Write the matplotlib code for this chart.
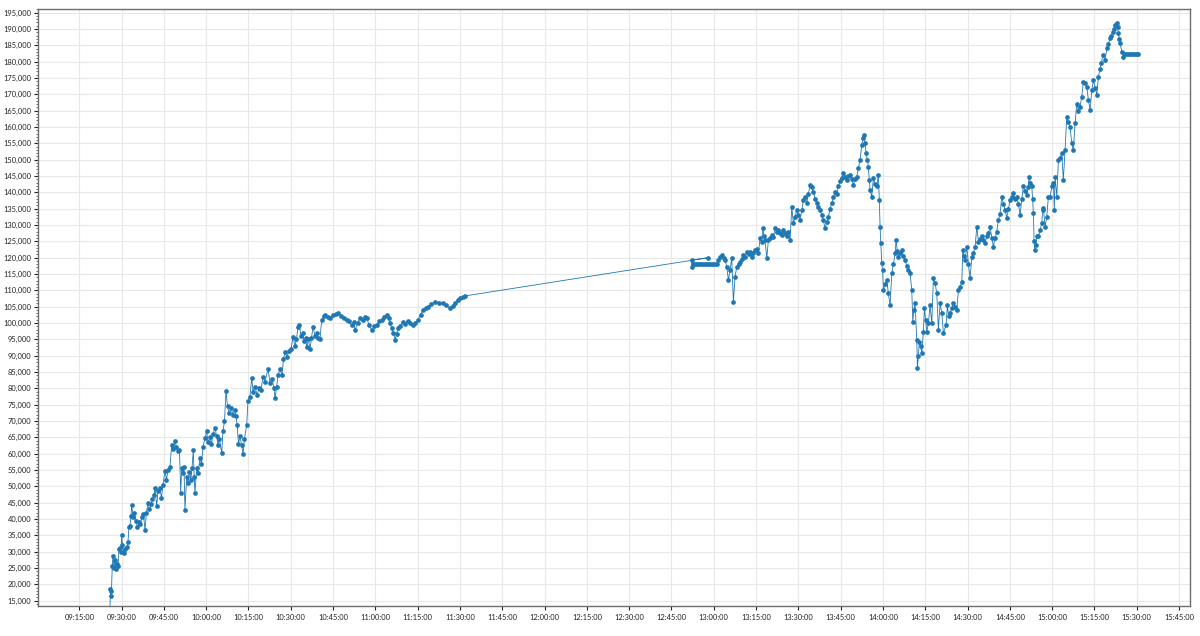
import matplotlib
matplotlib.use('Agg')
from matplotlib import pyplot as plt
import matplotlib.dates as mdates
from matplotlib.ticker import MultipleLocator, FuncFormatter
import pandas as pd

# morning session
am_time = ['09:25:53','09:26:04','09:26:10','09:26:25','09:26:42','09:26:57','09:27:18','09:27:40','09:28:01','09:28:22',
           '09:28:44','09:29:05','09:29:26','09:29:47','09:30:02','09:30:19','09:30:51','09:31:23','09:31:55','09:32:16',
           '09:32:38','09:32:59','09:33:20','09:33:35','09:34:03','09:34:35','09:35:07','09:35:38','09:36:10','09:36:42',
           '09:37:14','09:37:46','09:38:18','09:38:50','09:39:22','09:39:54','09:40:26','09:40:58','09:41:30','09:41:51',
           '09:42:27','09:42:55','09:43:37','09:44:09','09:44:41','09:45:24','09:45:56','09:46:28','09:47:10','09:47:46',
           '09:48:14','09:48:56','09:49:28','09:50:00','09:50:32','09:50:58','09:51:19','09:51:47','09:52:08','09:52:29',
           '09:53:05','09:53:33','09:54:05','09:54:37','09:54:58','09:55:26','09:55:45','09:56:02','09:56:38','09:57:06',
           '09:57:48','09:58:20','09:58:52','09:59:35','10:00:11','10:00:39','10:01:21','10:01:53','10:02:25','10:03:08',
           '10:03:40','10:04:12','10:04:43','10:05:30','10:05:58','10:06:30','10:07:02','10:07:34','10:08:06','10:08:48',
           '10:09:31','10:10:13','10:10:35','10:11:00','10:11:28','10:12:00','10:12:32','10:13:04','10:13:35','10:14:22',
           '10:14:50','10:15:32','10:16:09','10:16:36','10:17:19','10:18:01','10:18:44','10:19:27','10:20:09','10:20:52',
           '10:21:56','10:22:38','10:23:21','10:24:03','10:24:25','10:25:01','10:25:28','10:26:11','10:26:53','10:27:25',
           '10:27:57','10:28:40','10:29:22','10:30:05','10:30:48','10:31:30','10:32:02','10:32:34','10:33:02','10:33:38',
           '10:34:10','10:34:42','10:35:14','10:35:39','10:36:17','10:36:49','10:37:21','10:37:53','10:38:36','10:39:18',
           '10:39:50','10:40:22','10:40:58','10:41:37','10:42:08','10:43:02','10:43:55','10:44:59','10:46:03','10:46:45',
           '10:47:49','10:48:53','10:49:50','10:50:39','10:51:37','10:52:15','10:52:47','10:53:40','10:54:33','10:55:27',
           '10:56:09','10:56:56','10:57:45','10:58:42','10:59:31','11:00:29','11:01:18','11:02:15','11:03:04','11:04:01',
           '11:04:40','11:05:12','11:05:44','11:06:22','11:06:58','11:07:30','11:08:02','11:08:44','11:09:48','11:10:41',
           '11:11:35','11:12:17','11:13:21','11:14:14','11:15:08','11:16:01','11:16:54','11:17:47','11:18:40','11:19:44',
           '11:21:09','11:22:34','11:23:59','11:25:03','11:26:28','11:27:22','11:28:15','11:29:08','11:30:01','11:30:55',
           '11:31:48']
am_value = [12500,18500,16500,18000,25500,28800,25000,27500,24800,26200,
            25500,30800,31200,30000,35100,32000,29500,30800,31500,33000,
            37500,38000,41000,44300,40700,42000,39500,37500,39000,38500,
            40500,41500,36600,42000,45000,43000,44500,46000,47500,49500,
            44000,48500,49500,46500,50500,54700,52000,55000,56000,62700,
            61500,63900,62000,60800,61000,48000,55700,54000,56000,42800,
            53000,51000,54500,52000,55500,61000,53000,48000,55700,54000,
            58600,57000,62000,64800,66800,63500,65000,63000,66000,68000,
            65500,62700,64500,60200,67000,70000,79300,74500,72500,74000,
            72000,73500,71500,68800,63000,65500,62700,60000,64500,68800,
            76200,77500,83300,79000,80500,78000,80000,79500,83500,82000,
            86000,81700,83000,80000,76900,80500,84000,86000,84000,89000,
            91000,89700,91500,92000,95700,93000,95000,98900,99400,96000,
            97000,94500,95500,92700,95000,92000,95500,98800,96000,97000,
            95500,95000,101000,102000,102500,101800,101500,102400,102800,103000,
            102300,101500,101000,100500,99400,100200,97800,100000,101500,100800,
            101800,101500,99500,97800,99000,99400,100600,101000,101800,102500,
            101500,100000,98500,97000,94900,96500,98500,99000,100300,99800,
            100500,100000,99400,100000,101000,102500,104000,104500,105000,105800,
            106500,106000,106000,105400,104700,105300,106000,107000,107600,108000,
            108300]

# afternoon session (first tick arrives out of order)
pm_time = ['12:58:05','12:52:12','12:52:18','12:52:40','12:53:22','12:54:05','12:54:48','12:55:30','12:56:13','12:56:56',
           '12:57:38','12:58:21','12:59:04','12:59:46','13:00:29','13:01:12','13:01:31','13:02:14','13:02:50','13:03:29',
           '13:04:01','13:04:37','13:05:11','13:05:47','13:06:23','13:06:57','13:07:33','13:08:10','13:08:48','13:09:20',
           '13:09:56','13:10:30','13:11:06','13:11:42','13:12:21','13:12:53','13:13:29','13:14:03','13:14:39','13:15:15',
           '13:15:49','13:16:25','13:16:57','13:17:23','13:17:50','13:18:12','13:18:48','13:19:22','13:19:58','13:20:34',
           '13:21:08','13:21:45','13:22:21','13:22:55','13:23:31','13:24:07','13:24:41','13:25:17','13:25:53','13:26:27',
           '13:27:04','13:27:40','13:28:14','13:28:50','13:29:26','13:30:00','13:30:36','13:31:13','13:31:47','13:32:23',
           '13:32:59','13:33:33','13:34:09','13:34:45','13:35:20','13:35:56','13:36:32','13:37:06','13:37:42','13:38:18',
           '13:38:52','13:39:28','13:40:05','13:40:39','13:41:15','13:41:51','13:42:25','13:43:01','13:43:37','13:44:12',
           '13:44:48','13:45:24','13:45:58','13:46:34','13:47:10','13:47:44','13:48:20','13:48:57','13:49:31','13:50:07',
           '13:50:43','13:51:17','13:51:53','13:52:29','13:52:57','13:53:18','13:53:40','13:54:01','13:54:27','13:54:50',
           '13:55:09','13:55:26','13:56:02','13:56:36','13:57:12','13:57:49','13:58:23','13:58:42','13:58:59','13:59:14',
           '13:59:35','13:59:52','14:00:09','14:00:45','14:01:21','14:01:55','14:02:32','14:03:08','14:03:42','14:04:18',
           '14:04:39','14:05:05','14:05:28','14:06:04','14:06:41','14:07:15','14:07:51','14:08:27','14:09:01','14:09:37',
           '14:10:13','14:10:35','14:10:58','14:11:24','14:12:00','14:12:13','14:12:32','14:12:55','14:13:21','14:13:46',
           '14:14:20','14:14:42','14:15:07','14:15:33','14:16:07','14:16:43','14:17:19','14:17:53','14:18:29','14:19:05',
           '14:19:40','14:20:16','14:20:52','14:21:26','14:22:23','14:22:51','14:23:17','14:23:49','14:24:25','14:24:59',
           '14:25:35','14:26:11','14:26:46','14:27:22','14:27:58','14:28:19','14:28:42','14:29:08','14:29:44','14:30:18',
           '14:30:54','14:31:30','14:32:04','14:32:41','14:33:17','14:33:51','14:34:27','14:35:03','14:35:37','14:36:13',
           '14:36:49','14:37:23','14:38:00','14:38:36','14:39:10','14:39:46','14:40:22','14:40:56','14:41:32','14:42:09',
           '14:42:43','14:43:19','14:43:55','14:44:29','14:45:05','14:45:41','14:46:16','14:46:52','14:47:28','14:48:02',
           '14:48:38','14:49:14','14:49:48','14:50:25','14:51:01','14:51:28','14:51:50','14:52:17','14:52:47','14:53:04',
           '14:53:21','14:53:36','14:53:49','14:54:10','14:54:33','14:55:08','14:55:44','14:56:20','14:56:37','14:56:54',
           '14:57:30','14:58:06','14:58:40','14:59:17','14:59:53','15:00:27','15:00:46','15:01:03','15:01:39','15:02:13',
           '15:02:48','15:03:24','15:03:58','15:04:35','15:05:11','15:05:45','15:06:21','15:06:57','15:07:31','15:08:08',
           '15:08:44','15:09:18','15:09:54','15:10:30','15:11:04','15:11:41','15:12:17','15:12:51','15:13:27','15:14:04',
           '15:14:38','15:15:14','15:15:50','15:16:24','15:17:00','15:17:28','15:17:58','15:18:47','15:19:23','15:19:57',
           '15:20:33','15:21:01','15:21:31','15:21:58','15:22:20','15:22:56','15:23:13','15:23:30','15:23:49','15:24:06',
           '15:24:42','15:25:16','15:25:42','15:26:24','15:27:07','15:27:49','15:28:32','15:29:14','15:29:57','15:30:29']
pm_value = [120000,119300,117200,118000,118000,118000,118000,118000,118000,118000,
            118000,118000,118000,118000,118000,118000,119300,120200,120800,119800,
            119300,117200,113200,116200,119900,106500,114200,117200,118000,118700,
            119500,120800,120300,121800,121000,121800,120300,121500,122400,122800,
            121300,125900,124800,129000,126500,125400,119800,125400,126000,127000,
            126200,129000,127800,128500,127500,126800,128500,127500,126500,128000,
            125400,135600,130500,132500,134600,133000,131500,134500,137700,138500,
            136700,139500,142300,141500,140200,138000,136700,135500,134600,133000,
            131500,129000,131000,132600,135000,136700,138500,140200,139500,141800,
            143500,144500,145800,144800,143800,145000,145300,144000,142300,144000,
            144800,147500,149900,154500,156500,157600,155000,152000,150000,147900,
            143800,140700,138700,144300,142500,141800,145300,137700,129500,124400,
            118300,116200,110100,112000,113200,109100,105500,115200,118000,121300,
            125400,122000,120300,121500,122400,120500,119300,117500,116200,115200,
            110100,100400,104000,106000,94800,86100,90000,94300,93000,90700,
            97400,104500,101000,97400,99900,105500,99900,113700,112200,109100,
            97900,106000,103000,96900,99400,105500,102000,103000,104500,106000,
            105000,104000,110100,111000,112700,122400,120500,119300,123400,118000,
            113700,120300,121500,123400,129500,124900,125800,126500,125500,124400,
            126500,127500,129500,126000,123400,126000,128000,131500,133500,138700,
            136500,134600,132100,135000,137700,138500,139700,138000,138700,136500,
            133100,138000,141800,140500,139200,141500,144800,143000,141800,138000,
            133600,125000,122400,124000,126500,126500,128500,130500,134600,135100,
            129500,132600,138700,138700,141800,142800,134600,144800,138700,149900,
            150500,151900,143800,153000,163200,161500,160100,155000,153000,161100,
            167200,165000,166200,169300,173800,173500,172300,168300,165200,171300,
            174300,172000,169800,175400,177900,179500,182000,180500,184100,185500,
            187200,188000,189200,190000,191200,191900,190500,188700,187000,185600,
            183100,181500,182300,182300,182300,182300,182300,182300,182300,182300]

day = '2024-01-02 '
t = pd.to_datetime([day + s for s in am_time + pm_time])
v = am_value + pm_value

plt.rcParams['font.family'] = ['Lato', 'DejaVu Sans']

fig = plt.figure(figsize=(12, 6.36), dpi=100)
ax = fig.add_axes([38/1200, 1-606/636, (1190-38)/1200, (606-9)/636])
ax.plot(t, v, color='#1f77b4', lw=0.6, marker='o', ms=3.4, mew=0)

ax.set_xlim(pd.Timestamp(day + '09:00:22'), pd.Timestamp(day + '15:48:53'))
ax.set_ylim(13380, 196130)
ax.xaxis.set_major_locator(mdates.MinuteLocator(byminute=[0, 15, 30, 45]))
ax.xaxis.set_major_formatter(mdates.DateFormatter('%H:%M:%S'))
ax.yaxis.set_major_locator(MultipleLocator(5000))
ax.yaxis.set_minor_locator(MultipleLocator(1000))
ax.yaxis.set_major_formatter(FuncFormatter(lambda x, p: '{:,.0f}'.format(x)))

ax.grid(True, color='#e8e8e8', lw=0.8)
ax.set_axisbelow(True)
for s in ax.spines.values():
    s.set_color('#6e6e6e')
    s.set_linewidth(1)
ax.tick_params(axis='both', which='major', labelsize=5.4, colors='#222222', length=3, width=0.8, pad=2)
ax.tick_params(axis='x', which='major', pad=3)
ax.tick_params(axis='y', which='minor', length=1.8, width=0.6, colors='#555555')

plt.savefig('out.png')
